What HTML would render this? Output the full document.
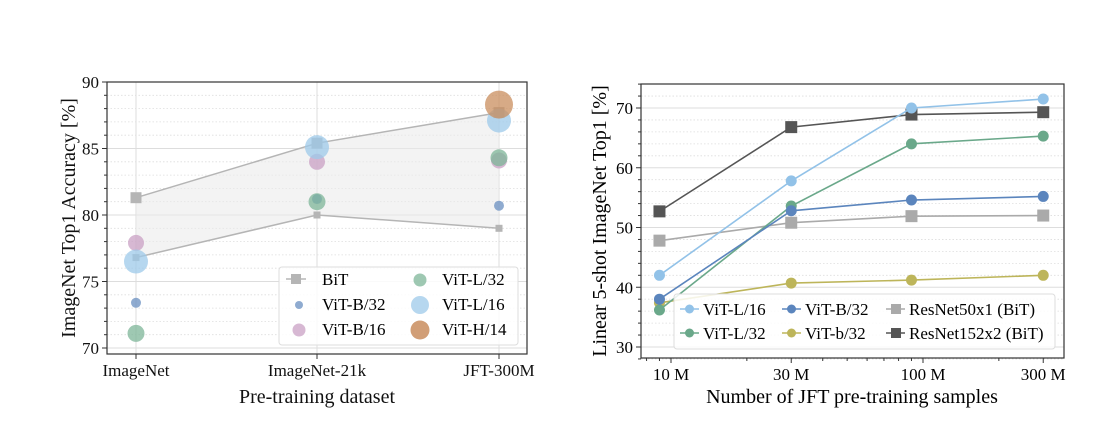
<!DOCTYPE html>
<html><head><meta charset="utf-8">
<style>
body{margin:0;background:#fff;}
svg{display:block;font-family:"Liberation Serif",serif;}
</style></head>
<body>
<svg id="svg" width="1118" height="438" viewBox="0 0 1118 438"></svg>
<script>
// Left chart data
const leftCats = ["ImageNet","ImageNet-21k","JFT-300M"];
const bitUpper = [81.3, 85.4, 87.7];
const bitLower = [76.8, 80.0, 79.0];
const vitB32L = [73.4, 81.2, 80.7];
const vitB16L = [77.9, 84.0, 84.1];
const vitL32L = [71.1, 81.0, 84.3];
const vitL16L = [76.5, 85.1, 87.1];
const vitH14L = [null, null, 88.3];
const leftYTicks = [70,75,80,85,90];
// Right chart data
const rightX = [9, 30, 90, 300];
const rightXTicks = [10, 30, 100, 300];
const rightXLabels = ["10 M","30 M","100 M","300 M"];
const rL16 = [42, 57.8, 70, 71.5];
const rB32 = [38, 52.8, 54.6, 55.2];
const rL32 = [36.2, 53.6, 64, 65.3];
const rb32 = [37.4, 40.7, 41.2, 42];
const rR50 = [47.8, 50.8, 51.9, 52];
const rR152 = [52.7, 66.8, 68.9, 69.3];
const rightYTicks = [30,40,50,60,70];

const NS="http://www.w3.org/2000/svg";
const svg=document.getElementById('svg');
function mk(tag,attrs,parent){const e=document.createElementNS(NS,tag);for(const k in attrs)e.setAttribute(k,attrs[k]);(parent||svg).appendChild(e);return e;}
function txt(s,attrs,parent){const e=mk('text',attrs,parent);e.textContent=s;return e;}

// ---------- LEFT ----------
const L={x0:107,x1:527,y0:82,y1:354};
const ly=v=>82+(90-v)*(348-82)/20;
const lx=i=>[136,317,499][i];
const gL=mk('g',{});

for(let v=70;v<=90;v++){
  if(v%5===0){const l=mk('line',{x1:L.x0,x2:L.x1,y1:ly(v),y2:ly(v),stroke:'#ddd','stroke-width':1},gL);}
  else {const l=mk('line',{x1:L.x0,x2:L.x1,y1:ly(v),y2:ly(v),stroke:'#ddd','stroke-width':0.8,'stroke-dasharray':'1.5,2'},gL);}
  mk('line',{x1:L.x0-(v%5===0?5:3),x2:L.x0,y1:ly(v),y2:ly(v),stroke:'#333','stroke-width':1},gL);
}
for(let i=0;i<3;i++){mk('line',{x1:lx(i),x2:lx(i),y1:L.y0,y2:L.y1,stroke:'#ddd','stroke-width':1},gL);mk('line',{x1:lx(i),x2:lx(i),y1:L.y1,y2:L.y1+5,stroke:'#333'},gL);}
let pts=bitUpper.map((v,i)=>lx(i)+','+ly(v)).concat(bitLower.map((v,i)=>lx(i)+','+ly(v)).reverse());
const band=mk('polygon',{points:pts.join(' '),fill:'#ebebeb','fill-opacity':0.6},gL);

[bitUpper,bitLower].forEach((arr,k)=>{
  const pl=mk('polyline',{points:arr.map((v,i)=>lx(i)+','+ly(v)).join(' '),fill:'none',stroke:'#b5b5b5','stroke-width':1.5},gL);
  
  arr.forEach((v,i)=>{const s=k?3.5:5.5;const r=mk('rect',{x:lx(i)-s,y:ly(v)-s,width:2*s,height:2*s,fill:'#b5b5b5'},gL);});
});
const lseries=[[vitB32L,'#6a8fc0',5,'vit-b32'],[vitB16L,'#c9a0c4',8,'vit-b16'],[vitL32L,'#7db598',8.5,'vit-l32'],[vitL16L,'#9ecae9',12,'vit-l16'],[vitH14L,'#c98d5e',14,'vit-h14']];
lseries.forEach(([arr,c,r,n])=>arr.forEach((v,i)=>{if(v==null)return;const e=mk('circle',{cx:lx(i),cy:ly(v),r:r,fill:c,'fill-opacity':0.75},gL);}));
mk('rect',{x:L.x0,y:L.y0,width:L.x1-L.x0,height:L.y1-L.y0,fill:'none',stroke:'#333','stroke-width':1.2},gL);
leftYTicks.forEach(v=>{const t=txt(String(v),{x:L.x0-8,y:ly(v)+6,'text-anchor':'end','font-size':17,fill:'#111'},gL);});
leftCats.forEach((c,i)=>{const t=txt(c,{x:lx(i),y:376,'text-anchor':'middle','font-size':17,fill:'#111'},gL);});
let t=txt('Pre-training dataset',{x:317,y:403,'text-anchor':'middle','font-size':20,fill:'#111'},gL);
t=txt('ImageNet Top1 Accuracy [%]',{x:0,y:0,transform:'translate(75,218) rotate(-90)','text-anchor':'middle','font-size':20,fill:'#111'},gL);
const lg=mk('g',{},gL);
mk('rect',{x:279,y:267,width:239,height:78,rx:3,fill:'#fff','fill-opacity':0.85,stroke:'#ddd'},lg);
mk('line',{x1:286,x2:306,y1:279,y2:279,stroke:'#b5b5b5','stroke-width':1.5},lg);mk('rect',{x:291,y:274,width:10,height:10,fill:'#b5b5b5'},lg);
txt('BiT',{x:322,y:285,'font-size':17},lg);
mk('circle',{cx:299,cy:305,r:4,fill:'#6a8fc0','fill-opacity':0.75},lg);txt('ViT-B/32',{x:322,y:310,'font-size':17},lg);
mk('circle',{cx:299,cy:330,r:6.5,fill:'#c9a0c4','fill-opacity':0.75},lg);txt('ViT-B/16',{x:322,y:335,'font-size':17},lg);
mk('circle',{cx:420,cy:280,r:6.5,fill:'#7db598','fill-opacity':0.75},lg);txt('ViT-L/32',{x:442,y:285,'font-size':17},lg);
mk('circle',{cx:420,cy:305,r:9,fill:'#9ecae9','fill-opacity':0.75},lg);txt('ViT-L/16',{x:442,y:310,'font-size':17},lg);
mk('circle',{cx:420,cy:330,r:9.5,fill:'#c98d5e','fill-opacity':0.85},lg);txt('ViT-H/14',{x:442,y:335,'font-size':17},lg);

// ---------- RIGHT ----------
const R={x0:641,x1:1064,y0:84,y1:358};
const ry=v=>108+(70-v)*(347-108)/40;
const rx=m=>671+252*Math.log10(m/10);
const gR=mk('g',{});
for(let v=28;v<=74;v+=2){
  const major=v%10===0;
  if(major)mk('line',{x1:R.x0,x2:R.x1,y1:ry(v),y2:ry(v),stroke:'#ddd'},gR);
  else mk('line',{x1:R.x0,x2:R.x1,y1:ry(v),y2:ry(v),stroke:'#ddd','stroke-width':0.8,'stroke-dasharray':'1.5,2'},gR);
  mk('line',{x1:R.x0-(major?5:3),x2:R.x0,y1:ry(v),y2:ry(v),stroke:'#333'},gR);
}
[7,8,9,20,40,50,60,70,80,90,200].forEach(m=>{const x=rx(m);if(x>R.x0&&x<R.x1)mk('line',{x1:x,x2:x,y1:R.y1,y2:R.y1+3,stroke:'#333'},gR);});
rightXTicks.forEach((m,i)=>{mk('line',{x1:rx(m),x2:rx(m),y1:R.y1,y2:R.y1+5,stroke:'#333'},gR);const e=txt(rightXLabels[i],{x:rx(m),y:380,'text-anchor':'middle','font-size':17},gR);});
rightYTicks.forEach(v=>{const e=txt(String(v),{x:R.x0-8,y:ry(v)+6,'text-anchor':'end','font-size':17},gR);});
const rseries=[[rR50,'#aaaaaa','sq','resnet50x1'],[rR152,'#555555','sq','resnet152x2'],[rb32,'#bdb55a','c','vit-b32-small'],[rL32,'#6aa88a','c','vit-l32'],[rB32,'#5b85bd','c','vit-b32'],[rL16,'#92c2e8','c','vit-l16']];
rseries.forEach(([arr,c,m,n])=>{
  const pl=mk('polyline',{points:arr.map((v,i)=>rx(rightX[i])+','+ry(v)).join(' '),fill:'none',stroke:c,'stroke-width':1.6},gR);
  
  arr.forEach((v,i)=>{let e;if(m==='sq')e=mk('rect',{x:rx(rightX[i])-6,y:ry(v)-6,width:12,height:12,fill:c},gR);else e=mk('circle',{cx:rx(rightX[i]),cy:ry(v),r:5.5,fill:c},gR);});
});
mk('rect',{x:R.x0,y:R.y0,width:R.x1-R.x0,height:R.y1-R.y0,fill:'none',stroke:'#333','stroke-width':1.2},gR);
t=txt('Number of JFT pre-training samples',{x:852,y:403,'text-anchor':'middle','font-size':20},gR);
t=txt('Linear 5-shot ImageNet Top1 [%]',{x:0,y:0,transform:'translate(606,221) rotate(-90)','text-anchor':'middle','font-size':20},gR);
const rg=mk('g',{},gR);
mk('rect',{x:674,y:294,width:381,height:55,rx:3,fill:'#fff','fill-opacity':0.85,stroke:'#ddd'},rg);
const leg=[['ViT-L/16','#92c2e8','c',680,309],['ViT-L/32','#6aa88a','c',680,333],['ViT-B/32','#5b85bd','c',782,309],['ViT-b/32','#bdb55a','c',782,333],['ResNet50x1 (BiT)','#aaaaaa','sq',886,309],['ResNet152x2 (BiT)','#555555','sq',886,333]];
leg.forEach(([s,c,m,x,y])=>{mk('line',{x1:x,x2:x+19,y1:y,y2:y,stroke:c,'stroke-width':1.6},rg);if(m==='sq')mk('rect',{x:x+5,y:y-5,width:10,height:10,fill:c},rg);else mk('circle',{cx:x+9.5,cy:y,r:4.5,fill:c},rg);txt(s,{x:x+23,y:y+6,'font-size':17},rg);});
</script>
</body></html>
